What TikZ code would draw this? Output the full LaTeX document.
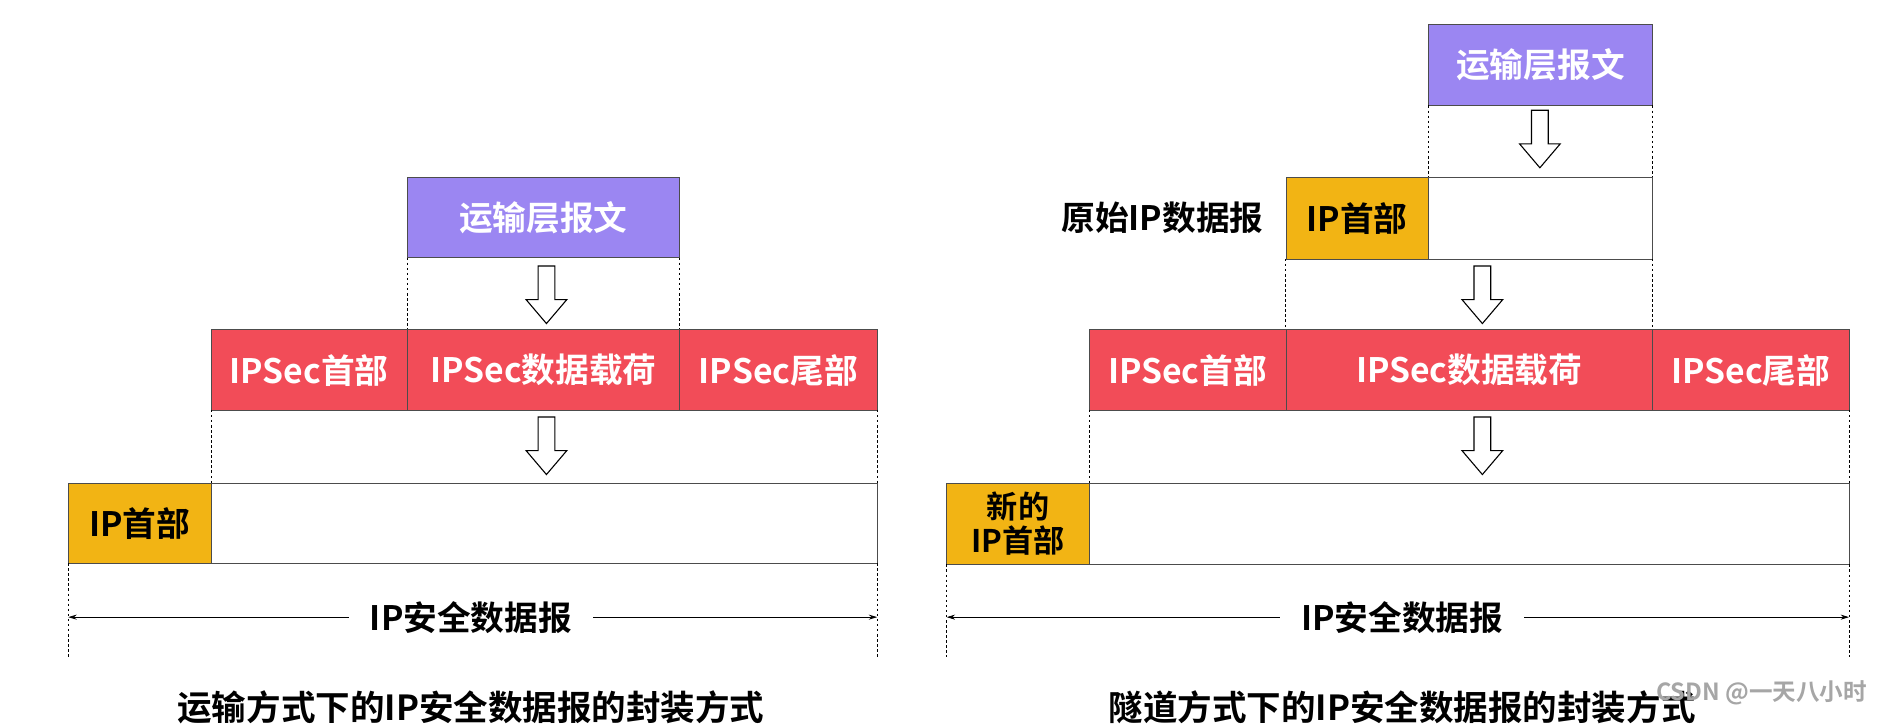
\documentclass[tikz,border=0pt]{standalone}
\usepackage{fontspec}
\setmainfont{Noto Sans CJK SC Bold}
\usetikzlibrary{arrows.meta}
\definecolor{pur}{HTML}{9B86F2}
\definecolor{rd}{HTML}{F24C58}
\definecolor{yl}{HTML}{F2B414}
\tikzset{
 x=0.05cm,y=-0.05cm,
 box/.style={draw=black!70,line width=0.8pt},
 txt/.style={font=\fontsize{40}{46}\selectfont},
 captxt/.style={font=\fontsize{41}{46}\selectfont},
 dsh/.style={dashed,line width=0.9pt},
 hollow/.pic={\draw[line width=1.3pt,fill=white] (-7,0)--(7,0)--(7,28)--(17,28)--(0,48)--(-17,28)--(-7,28)--cycle;},
 span/.style={{Stealth[length=10pt,width=6pt]}-{Stealth[length=10pt,width=6pt]},line width=0.9pt},
}
\begin{document}
\begin{tikzpicture}
\useasboundingbox (0,0) rectangle (1568,607);
% ---------- left ----------
\draw[box,fill=pur] (340,148) rectangle (567,215);
\node[txt,text=white] (lt) at (453.5,182) {运输层报文};
\draw[dsh] (340,215)--(340,275) (567,215)--(567,275);
\pic at (456,222) {hollow};
\draw[box,fill=rd] (176,275) rectangle (340,342);
\draw[box,fill=rd] (340,275) rectangle (567,342);
\draw[box,fill=rd] (567,275) rectangle (732,342);
\node[txt,text=white] (lh) at (258,309) {IPSec首部};
\node[txt,text=white] (lp) at (453.5,309) {IPSec数据载荷};
\node[txt,text=white] (ls) at (649.5,309) {IPSec尾部};
\draw[dsh] (176,342)--(176,403) (732,342)--(732,403);
\pic at (456,348) {hollow};
\draw[box,fill=yl] (57,403) rectangle (176,470);
\draw[box,fill=white] (176,403) rectangle (732,470);
\node[txt] (lip) at (116.5,437) {IP首部};
\draw[dsh] (57,470)--(57,548) (732,470)--(732,548);
\coordinate (la) at (57,515); \coordinate (lb) at (732,515);
\draw[span] (la)--(lb);
\node[txt,fill=white,inner xsep=25pt] (ll) at (393,515) {IP安全数据报};
\node[captxt] (lc) at (393,590) {运输方式下的IP安全数据报的封装方式};
% ---------- right ----------
\draw[box,fill=pur] (1192,20) rectangle (1379,88);
\node[txt,text=white] (rt) at (1285.5,54) {运输层报文};
\draw[dsh] (1192,88)--(1192,148) (1379,88)--(1379,148);
\pic at (1285,92) {hollow};
\node[txt] (ro) at (970,182) {原始IP数据报};
\draw[box,fill=yl] (1073,148) rectangle (1192,216);
\draw[box,fill=white] (1192,148) rectangle (1379,216);
\node[txt] (rip) at (1132.5,182) {IP首部};
\draw[dsh] (1073,216)--(1073,275) (1379,216)--(1379,275);
\pic at (1237,222) {hollow};
\draw[box,fill=rd] (909,275) rectangle (1073,342);
\draw[box,fill=rd] (1073,275) rectangle (1379,342);
\draw[box,fill=rd] (1379,275) rectangle (1543,342);
\node[txt,text=white] (rh) at (991,309) {IPSec首部};
\node[txt,text=white] (rp) at (1226,309) {IPSec数据载荷};
\node[txt,text=white] (rs) at (1461,309) {IPSec尾部};
\draw[dsh] (909,342)--(909,403) (1543,342)--(1543,403);
\pic at (1237,348) {hollow};
\draw[box,fill=yl] (790,403) rectangle (909,471);
\draw[box,fill=white] (909,403) rectangle (1543,471);
\node[align=center,font=\fontsize{37}{40}\selectfont] (rn) at (849.5,437) {新的\\IP首部};
\draw[dsh] (790,471)--(790,548) (1543,471)--(1543,548);
\coordinate (ra) at (790,515); \coordinate (rb) at (1543,515);
\draw[span] (ra)--(rb);
\node[txt,fill=white,inner xsep=25pt] (rl) at (1170,515) {IP安全数据报};
\node[captxt] (rc) at (1170,590) {隧道方式下的IP安全数据报的封装方式};
\node[font=\fontsize{28}{32}\selectfont\mdseries,text=black!35] (wm) at (1470,578) {CSDN @一天八小时};
\end{tikzpicture}
\end{document}
